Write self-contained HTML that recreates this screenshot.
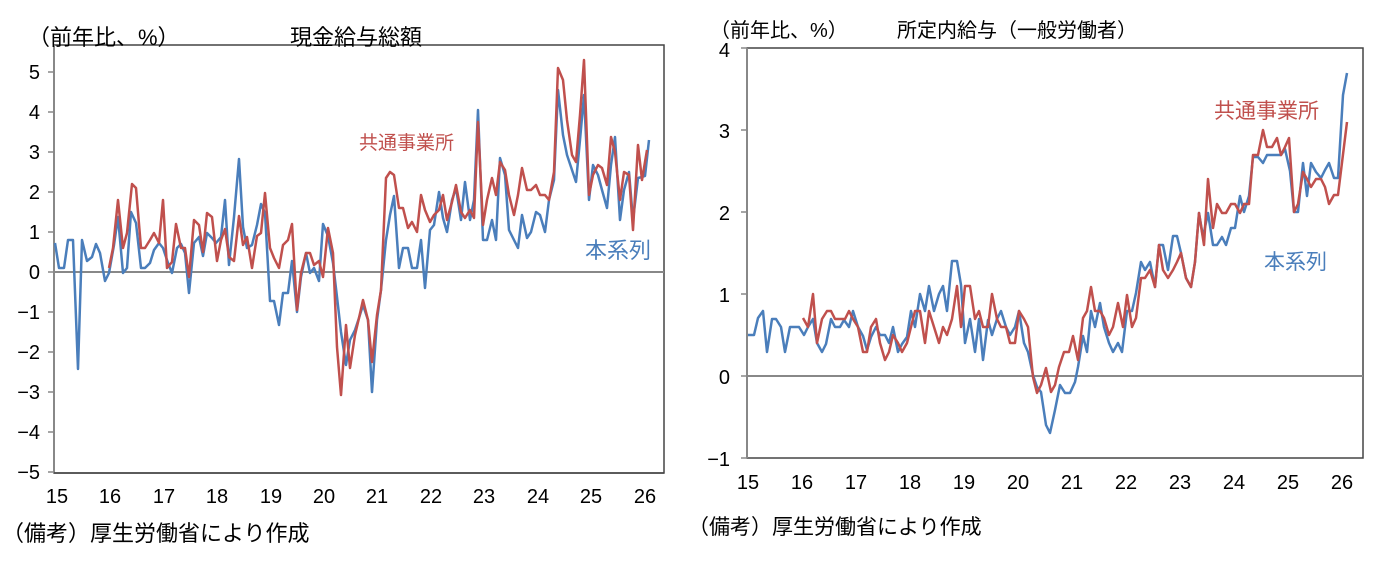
<!DOCTYPE html>
<html><head><meta charset="utf-8"><style>
html,body{margin:0;padding:0;background:#fff;}
svg text{font-family:"Liberation Sans","Noto Sans CJK JP",sans-serif;fill:#000;}
</style></head><body>
<svg width="1391" height="560" viewBox="0 0 1391 560" xmlns="http://www.w3.org/2000/svg">
<!-- LEFT CHART -->
<rect x="54" y="45" width="610" height="428" fill="none" stroke="#444" stroke-width="1.5"/>
<line x1="54" y1="45" x2="54" y2="473" stroke="#888" stroke-width="2"/>
<line x1="54" y1="473" x2="664" y2="473" stroke="#444" stroke-width="1.5"/>
<line x1="54" y1="272" x2="664" y2="272" stroke="#888" stroke-width="2"/>
<g stroke="#888" stroke-width="1.5">
<line x1="48" y1="72" x2="54" y2="72"/><line x1="48" y1="112" x2="54" y2="112"/><line x1="48" y1="152" x2="54" y2="152"/><line x1="48" y1="192" x2="54" y2="192"/><line x1="48" y1="232" x2="54" y2="232"/><line x1="48" y1="272" x2="54" y2="272"/><line x1="48" y1="312" x2="54" y2="312"/><line x1="48" y1="352" x2="54" y2="352"/><line x1="48" y1="392" x2="54" y2="392"/><line x1="48" y1="432" x2="54" y2="432"/><line x1="48" y1="472" x2="54" y2="472"/>
</g>
<g font-size="20" text-anchor="end">
<text x="40" y="79">5</text><text x="40" y="119">4</text><text x="40" y="159">3</text><text x="40" y="199">2</text><text x="40" y="239">1</text><text x="40" y="279">0</text><text x="40" y="319">−1</text><text x="40" y="359">−2</text><text x="40" y="399">−3</text><text x="40" y="439">−4</text><text x="40" y="479">−5</text>
</g>
<g font-size="20" text-anchor="middle">
<text x="57" y="503">15</text><text x="110" y="503">16</text><text x="164" y="503">17</text><text x="217" y="503">18</text><text x="271" y="503">19</text><text x="324" y="503">20</text><text x="377" y="503">21</text><text x="431" y="503">22</text><text x="484" y="503">23</text><text x="538" y="503">24</text><text x="591" y="503">25</text><text x="645" y="503">26</text>
</g>
<polyline fill="none" stroke="#4a7ebb" stroke-width="2.5" stroke-linejoin="round" points="55,243 59,268 64,268 68,240 73,240 78,369 82,240 87,261 92,257 96,244 100,253 105,281 109,273 114,245 118,217 123,273 127,268 131,212 136,223 141,268 145,268 150,263 154,250 159,243 163,248 168,263 172,273 177,248 181,244 185,253 189,293 194,243 199,237 203,256 207,233 212,238 216,243 221,237 225,200 229,265 234,217 239,159 243,227 247,248 252,245 257,225 261,204 265,213 270,301 274,301 279,325 283,293 288,293 292,261 297,312 301,277 306,253 310,273 314,268 319,281 323,224 328,236 333,263 337,297 341,332 346,365 350,340 355,330 359,318 363,305 368,320 372,392 377,320 381,290 386,240 390,215 394,196 399,268 403,248 408,248 412,268 417,268 421,240 425,288 430,230 434,225 439,192 443,218 447,232 452,200 456,188 461,220 465,182 470,220 474,200 478,110 483,240 487,240 492,220 496,240 500,158 505,175 509,230 514,240 518,248 522,215 527,238 531,232 536,212 540,215 545,232 549,200 554,180 558,90 563,135 567,155 572,170 576,182 580,140 584,95 589,200 593,165 598,175 602,190 607,208 611,165 615,137 620,220 624,190 629,172 633,220 638,178 642,177 645,176 649,140"/>
<polyline fill="none" stroke="#c0504d" stroke-width="2.5" stroke-linejoin="round" points="109,268 113,248 118,200 123,248 127,233 132,184 136,188 141,248 145,248 150,240 154,233 159,243 163,200 167,268 172,262 176,224 181,248 185,248 189,277 194,220 199,225 203,252 207,213 212,217 217,261 221,240 225,229 229,257 234,261 239,216 243,245 247,237 252,268 257,236 261,233 265,193 270,248 274,258 279,268 283,245 288,240 292,224 297,310 301,273 306,253 310,253 314,265 319,261 323,277 328,228 333,253 337,347 341,395 346,325 350,368 355,335 359,318 363,300 368,320 372,362 377,315 381,290 386,178 390,172 394,175 399,208 403,208 408,228 412,222 417,232 421,195 425,210 430,222 434,215 439,210 443,195 447,220 452,202 456,185 461,212 465,218 470,210 474,218 478,122 483,225 487,200 492,178 496,195 500,162 505,170 509,195 514,215 518,195 522,168 527,190 531,190 536,185 540,195 545,195 549,200 554,172 558,68 563,80 567,120 572,155 576,162 580,115 584,60 589,195 593,175 598,165 602,168 607,185 611,137 615,152 620,200 624,172 629,175 633,230 638,145 642,180 647,150"/>
<text x="359" y="149" font-size="19" style="fill:#c0504d">共通事業所</text>
<text x="585" y="258" font-size="22" style="fill:#4a7ebb">本系列</text>
<text x="28" y="45" font-size="22">（前年比、%）</text>
<text x="290" y="45" font-size="22">現金給与総額</text>
<text x="2" y="541" font-size="22">（備考）厚生労働省により作成</text>

<!-- RIGHT CHART -->
<rect x="747" y="48" width="616" height="410" fill="none" stroke="#444" stroke-width="1.5"/>
<line x1="747" y1="48" x2="747" y2="458" stroke="#888" stroke-width="2"/>
<line x1="747" y1="376" x2="1363" y2="376" stroke="#888" stroke-width="2"/>
<g stroke="#888" stroke-width="1.5">
<line x1="741" y1="48" x2="747" y2="48"/><line x1="741" y1="130" x2="747" y2="130"/><line x1="741" y1="212" x2="747" y2="212"/><line x1="741" y1="294" x2="747" y2="294"/><line x1="741" y1="376" x2="747" y2="376"/><line x1="741" y1="458" x2="747" y2="458"/>
</g>
<g font-size="20" text-anchor="end">
<text x="730" y="57">4</text><text x="730" y="138">3</text><text x="730" y="220">2</text><text x="730" y="302">1</text><text x="730" y="384">0</text><text x="730" y="466">−1</text>
</g>
<g font-size="20" text-anchor="middle">
<text x="748" y="489">15</text><text x="802" y="489">16</text><text x="856" y="489">17</text><text x="910" y="489">18</text><text x="964" y="489">19</text><text x="1018" y="489">20</text><text x="1072" y="489">21</text><text x="1126" y="489">22</text><text x="1180" y="489">23</text><text x="1234" y="489">24</text><text x="1288" y="489">25</text><text x="1342" y="489">26</text>
</g>
<polyline fill="none" stroke="#4a7ebb" stroke-width="2.5" stroke-linejoin="round" points="748,335 754,335 758,318 763,311 767,352 772,319 776,319 781,327 785,352 790,327 795,327 799,327 804,335 808,327 813,319 817,343 822,352 826,344 831,319 835,327 840,327 844,320 849,327 853,311 858,327 863,336 867,350 871,337 876,327 880,335 885,335 889,343 893,327 898,352 902,344 907,337 911,311 915,327 920,294 925,311 929,286 934,311 939,294 943,286 947,311 952,261 957,261 961,285 965,343 970,319 975,352 979,319 983,360 988,320 992,335 997,319 1001,311 1006,327 1010,335 1015,327 1019,311 1024,343 1028,352 1033,375 1037,387 1041,392 1046,425 1050,433 1055,410 1060,385 1065,393 1070,393 1075,382 1078,367 1083,336 1087,352 1091,311 1095,327 1100,303 1104,327 1109,343 1113,352 1118,343 1122,352 1127,311 1132,311 1136,293 1141,262 1145,270 1150,262 1155,287 1159,245 1163,245 1168,270 1173,236 1177,236 1181,253 1186,278 1191,287 1195,262 1199,213 1203,237 1208,213 1213,245 1217,245 1222,237 1226,245 1231,228 1235,228 1240,196 1244,212 1249,196 1253,157 1258,157 1263,163 1267,155 1272,155 1277,155 1281,155 1285,149 1290,171 1294,212 1298,212 1303,163 1307,196 1311,163 1316,172 1321,178 1325,170 1329,163 1334,178 1338,178 1343,95 1347,73"/>
<polyline fill="none" stroke="#c0504d" stroke-width="2.5" stroke-linejoin="round" points="803,318 808,327 813,294 817,343 822,319 827,311 831,311 835,319 840,319 845,319 849,311 853,319 858,327 863,352 867,352 871,327 876,319 880,343 885,360 889,352 893,335 898,343 902,352 907,343 911,327 915,311 920,311 925,343 929,311 934,327 939,343 943,327 947,335 952,319 957,286 961,327 965,286 970,286 975,319 979,311 983,327 988,327 992,294 997,319 1001,327 1006,327 1010,343 1015,343 1019,311 1024,319 1028,327 1033,377 1037,393 1041,385 1046,368 1051,392 1055,385 1059,367 1064,352 1069,352 1073,336 1078,360 1083,318 1087,311 1091,287 1095,311 1100,311 1104,318 1109,335 1113,327 1118,303 1123,327 1127,295 1132,327 1136,318 1141,278 1145,278 1150,270 1155,287 1159,245 1163,270 1168,278 1173,270 1177,262 1181,253 1186,278 1191,287 1195,262 1199,213 1204,245 1208,179 1213,228 1217,204 1222,213 1226,213 1231,204 1235,204 1240,213 1244,204 1249,204 1253,155 1258,155 1263,130 1267,147 1272,147 1277,138 1281,155 1285,147 1289,138 1294,212 1298,204 1303,172 1307,179 1311,187 1316,179 1321,179 1325,187 1329,204 1334,195 1338,195 1347,122"/>
<text x="1214" y="118" font-size="21" style="fill:#c0504d">共通事業所</text>
<text x="1264" y="269" font-size="21" style="fill:#4a7ebb">本系列</text>
<text x="710" y="37" font-size="20">（前年比、%）</text>
<text x="897" y="37" font-size="20">所定内給与（一般労働者）</text>
<text x="688" y="534" font-size="21">（備考）厚生労働省により作成</text>
</svg>
</body></html>
